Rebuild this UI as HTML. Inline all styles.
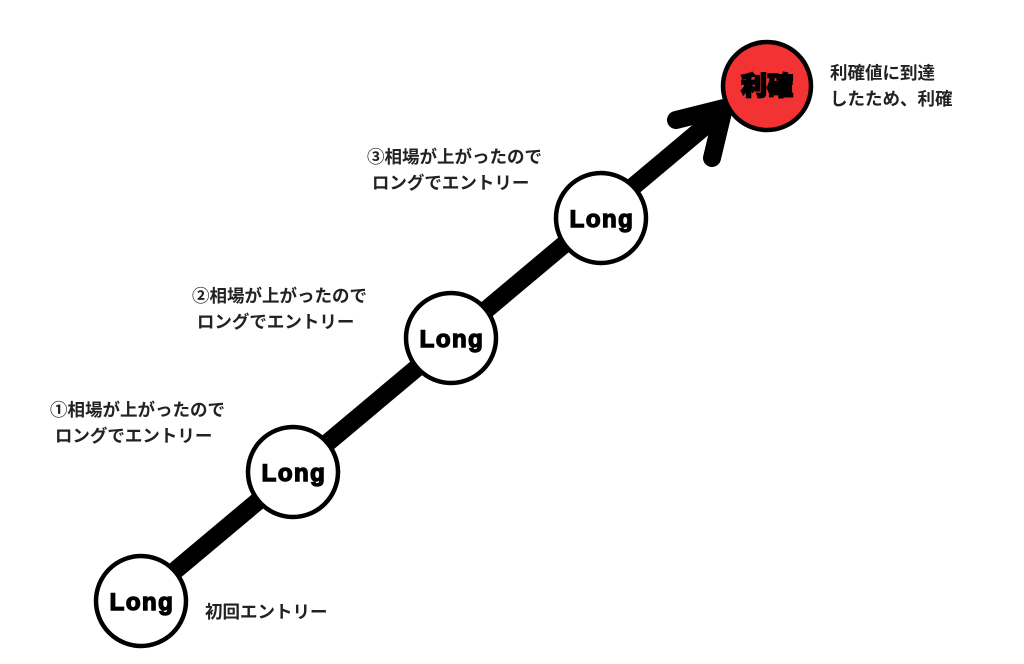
<!DOCTYPE html>
<html><head><meta charset="utf-8"><style>
body{margin:0;width:1024px;height:664px;background:#fff;overflow:hidden;position:relative;font-family:"Liberation Sans","Noto Sans CJK JP",sans-serif}
.t{position:absolute;font-size:17.5px;font-weight:bold;color:#222;line-height:26px;white-space:nowrap;font-family:"Liberation Sans","Noto Sans CJK JP",sans-serif}
</style></head><body>
<svg width="1024" height="664" style="position:absolute;left:0;top:0">
<line x1="140" y1="600" x2="722" y2="112" stroke="#000" stroke-width="18"/>
<polyline points="676,120 724,108 712,158" fill="none" stroke="#000" stroke-width="18" stroke-linecap="round" stroke-linejoin="round"/>
<g stroke="#000" stroke-width="4.5" fill="#fff">
<circle cx="141" cy="601" r="45"/>
<circle cx="293" cy="472" r="45"/>
<circle cx="451" cy="338" r="45"/>
<circle cx="601" cy="218" r="45"/>
<circle cx="767" cy="86" r="44" fill="#f33333"/>
</g>
<g font-family="Liberation Sans, sans-serif" font-weight="900" font-size="24" letter-spacing="1.5" text-anchor="middle" fill="#000" stroke="#000" stroke-width="1.4">
<text x="142" y="610">Long</text>
<text x="294" y="481">Long</text>
<text x="452" y="347">Long</text>
<text x="602" y="227">Long</text>
</g>
<text x="767" y="95" text-anchor="middle" font-family="Noto Sans CJK JP, sans-serif" font-weight="900" font-size="26" fill="#000" stroke="#000" stroke-width="1.8">利確</text>
</svg>
<div class="t" style="left:205px;top:599px">初回エントリー</div>
<div class="t" style="left:50px;top:397px">①相場が上がったので<br>&nbsp;ロングでエントリー</div>
<div class="t" style="left:192px;top:283px">②相場が上がったので<br>&nbsp;ロングでエントリー</div>
<div class="t" style="left:367px;top:144px">③相場が上がったので<br>&nbsp;ロングでエントリー</div>
<div class="t" style="left:830px;top:60px">利確値に到達<br>したため、利確</div>
</body></html>
